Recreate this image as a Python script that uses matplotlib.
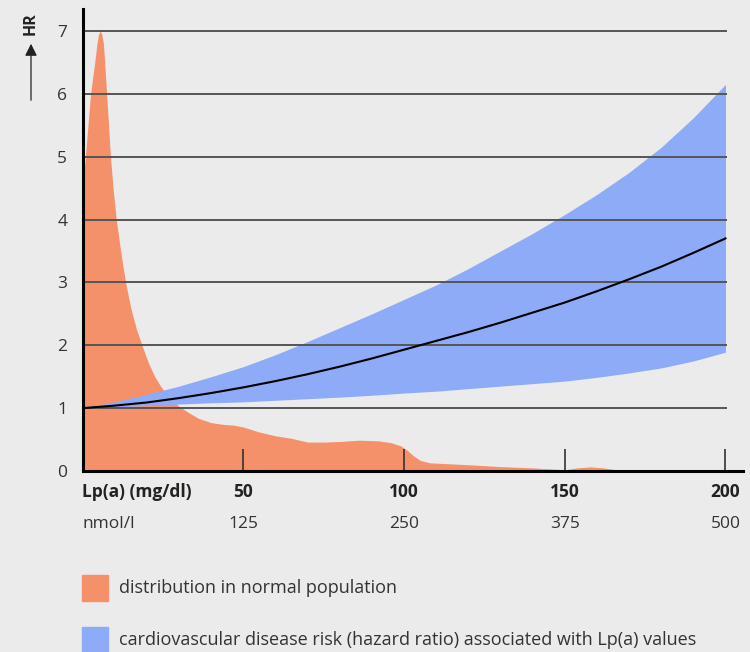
import matplotlib.pyplot as plt

plt.rcParams['font.family'] = ['Open Sans', 'DejaVu Sans']

# Lp(a) in mg/dl
dist_x = [0, 0.9, 1.7, 2.5, 3.8, 4.5, 5.0, 5.5, 6.0, 6.5, 6.9, 7.5, 8.1, 8.7, 9.5, 10.5,
          12, 13.4, 15, 16.8, 18.5, 20.5, 22.5, 24.4, 27, 30, 33, 36, 40, 44, 47, 50, 55,
          60, 65, 70, 75, 80, 86, 92, 96, 99, 101, 103, 105, 108, 112, 120, 130, 140,
          150, 154, 158, 162, 166, 168, 205]
dist_y = [4.5, 5.0, 5.5, 6.0, 6.5, 6.8, 6.95, 7.0, 6.95, 6.8, 6.5, 6.0, 5.5, 5.0, 4.5, 4.0,
          3.45, 3.0, 2.6, 2.25, 2.0, 1.72, 1.5, 1.34, 1.17, 1.03, 0.93, 0.84, 0.77, 0.74,
          0.73, 0.7, 0.62, 0.56, 0.52, 0.46, 0.46, 0.47, 0.49, 0.48, 0.45, 0.4, 0.33,
          0.24, 0.17, 0.13, 0.12, 0.1, 0.07, 0.05, 0.02, 0.05, 0.065, 0.05, 0.02, 0, 0]

# hazard ratio band and central estimate
hr_x = [0, 10, 20, 30, 40, 50, 60, 70, 80, 90, 100, 110, 120, 130, 140, 150, 160, 170,
        180, 190, 200]
hr_upper = [1, 1.1, 1.22, 1.35, 1.5, 1.66, 1.85, 2.06, 2.28, 2.5, 2.73, 2.96, 3.22, 3.5,
            3.78, 4.08, 4.4, 4.75, 5.15, 5.62, 6.15]
hr_lower = [1, 1.02, 1.04, 1.065, 1.085, 1.1, 1.125, 1.15, 1.175, 1.205, 1.24, 1.27, 1.31,
            1.35, 1.39, 1.43, 1.49, 1.56, 1.64, 1.75, 1.89]
hr_mid = [1, 1.04, 1.09, 1.16, 1.24, 1.33, 1.43, 1.54, 1.66, 1.79, 1.93, 2.07, 2.21, 2.36,
          2.52, 2.68, 2.86, 3.05, 3.25, 3.47, 3.7]

mg_ticks = [50, 100, 150, 200]
nmol_labels = ['125', '250', '375', '500']
hr_ticks = [0, 1, 2, 3, 4, 5, 6, 7]

bg = '#ebebeb'
orange = '#f4916b'
blue = '#8eabf7'

fig = plt.figure(figsize=(7.5, 6.52), dpi=100, facecolor=bg)
ax = fig.add_axes([0.11, 0.2776, 0.8813, 0.7086], facecolor=bg)

ax.fill_between(dist_x, 0, dist_y, color=orange, lw=0, zorder=1)
ax.fill_between(hr_x, hr_lower, hr_upper, color=blue, lw=0, zorder=2)
ax.hlines(hr_ticks[1:], 0, 200.6, color='#555555', lw=1.4, zorder=3)
ax.plot(hr_x, hr_mid, color='black', lw=1.5, zorder=4)

ax.set_xlim(0, 205.6)
ax.set_ylim(0, 7.35)
for s in ['top', 'right']:
    ax.spines[s].set_visible(False)
for s in ['left', 'bottom']:
    ax.spines[s].set_linewidth(2.2)
    ax.spines[s].set_color('black')
    ax.spines[s].set_zorder(5)

ax.set_yticks(hr_ticks)
ax.tick_params(axis='y', length=0, pad=11, labelsize=12.5, labelcolor='#333333')
ax.set_xticks(mg_ticks)
ax.set_xticklabels([])
ax.tick_params(axis='x', direction='in', length=16, width=1.2, color='#333333')

# x labels (two rows)
tr = ax.get_xaxis_transform()
ax.text(0, -0.045, 'Lp(a) (mg/dl)', transform=tr, ha='left', va='center',
        fontsize=12.5, fontweight='bold', color='#222222')
ax.text(0, -0.115, 'nmol/l', transform=tr, ha='left', va='center',
        fontsize=12.5, color='#333333')
for v, lab in zip(mg_ticks, nmol_labels):
    ax.text(v, -0.045, str(v), transform=tr, ha='center', va='center',
            fontsize=12.5, fontweight='bold', color='#222222')
    ax.text(v, -0.115, lab, transform=tr, ha='center', va='center',
            fontsize=12.5, color='#333333')

# HR arrow label
fig.text(31 / 750, 1 - 24 / 652, 'HR', rotation=90, ha='center', va='center',
         fontsize=11.5, fontweight='bold', color='#222222')
ax.annotate('', xy=(31 / 750, 1 - 41 / 652), xytext=(31 / 750, 1 - 103 / 652),
            xycoords='figure fraction', textcoords='figure fraction',
            arrowprops=dict(arrowstyle='-|>', color='#222222', lw=0.9,
                            mutation_scale=18))

# legend
fig.patches.append(plt.Rectangle((82 / 750, 1 - 601 / 652), 26 / 750, 26 / 652,
                                 transform=fig.transFigure, color=orange))
fig.patches.append(plt.Rectangle((82 / 750, 1 - 653 / 652), 26 / 750, 26 / 652,
                                 transform=fig.transFigure, color=blue))
fig.text(119 / 750, 1 - 588 / 652, 'distribution in normal population',
         ha='left', va='center', fontsize=13, color='#333333')
fig.text(119 / 750, 1 - 640 / 652,
         'cardiovascular disease risk (hazard ratio) associated with Lp(a) values',
         ha='left', va='center', fontsize=13, color='#333333')

fig.savefig('out.png', dpi=100, facecolor=bg)
